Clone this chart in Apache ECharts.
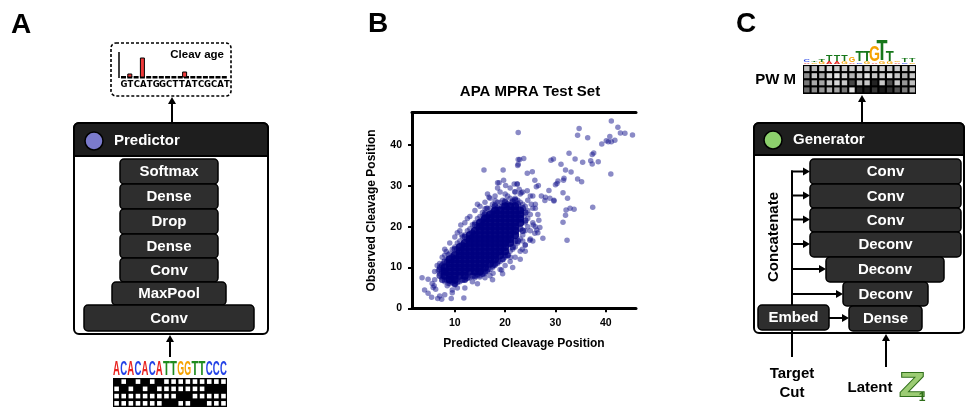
<!DOCTYPE html>
<html><head><meta charset="utf-8">
<script src="https://cdn.jsdelivr.net/npm/echarts@6/dist/echarts.min.js"></script>
<style>html,body{margin:0;padding:0;background:#fff}#c{width:970px;height:409px}</style>
</head><body><div id="c"></div>
<script>
// ---------------- DATA ----------------
const xTicks = [10, 20, 30, 40];
const yTicks = [0, 10, 20, 30, 40];
const chartTitle = 'APA MPRA Test Set';
const xName = 'Predicted Cleavage Position';
const yName = 'Observed Cleavage Position';

// dense centre of the cloud (predicted, observed)
const coreCloud = [
 [8,8],[8,9],[8,10],
 [9,7],[9,8],[9,9],[9,10],[9,11],[9,12],
 [10,7],[10,8],[10,9],[10,10],[10,11],[10,12],[10,13],
 [11,8],[11,9],[11,10],[11,11],[11,12],[11,13],[11,14],[11,15],
 [12,8],[12,9],[12,10],[12,11],[12,12],[12,13],[12,14],[12,15],[12,16],
 [13,9],[13,10],[13,11],[13,12],[13,13],[13,14],[13,15],[13,16],[13,17],[13,18],
 [14,9],[14,10],[14,11],[14,12],[14,13],[14,14],[14,15],[14,16],[14,17],[14,18],[14,19],
 [15,9],[15,10],[15,11],[15,12],[15,13],[15,14],[15,15],[15,16],[15,17],[15,18],[15,19],[15,20],[15,21],
 [16,10],[16,11],[16,12],[16,13],[16,14],[16,15],[16,16],[16,17],[16,18],[16,19],[16,20],[16,21],[16,22],
 [17,11],[17,12],[17,13],[17,14],[17,15],[17,16],[17,17],[17,18],[17,19],[17,20],[17,21],[17,22],[17,23],
 [18,12],[18,13],[18,14],[18,15],[18,16],[18,17],[18,18],[18,19],[18,20],[18,21],[18,22],[18,23],[18,24],
 [19,13],[19,14],[19,15],[19,16],[19,17],[19,18],[19,19],[19,20],[19,21],[19,22],[19,23],[19,24],
 [20,14],[20,15],[20,16],[20,17],[20,18],[20,19],[20,20],[20,21],[20,22],[20,23],[20,24],[20,25],
 [21,16],[21,17],[21,18],[21,19],[21,20],[21,21],[21,22],[21,23],[21,24],[21,25],
 [22,18],[22,19],[22,20],[22,21],[22,22],[22,23],[22,24],[22,25],
 [23,21],[23,22],[23,23],[23,24]
];

// fringe of the centre, still fairly dense
const fringeCloud = [
 [7.5,10.5],[8.5,11.5],[9.5,12.5],[10.5,14.5],[11.5,15.5],[12.5,17],[13.5,18.5],[14.5,20],[15.5,21.5],[16.5,22.5],
 [17.5,23.5],[18.5,24.5],[19.5,25],[20.5,25.5],[21.5,26],[22.5,25.5],[23.5,24.5],
 [8,11.5],[10,14.5],[12,17.5],[14,20.5],[16,23],[18,25],[20,26],[22,26.5],
 [8.5,7],[9.5,6.5],[10.5,6.5],[11.5,7],[12.5,7.5],[13.5,8],[14.5,8.5],[15.5,8.5],[16.5,9.5],[17.5,10.5],
 [18.5,11.5],[19.5,12],[20.5,13],[21.5,15],[22.5,16.5],[23.5,19],[24,21.5],[24,23.5],
 [10,6],[12,7],[14,8],[16,9],[18,11],[20,13],[22,16.5],[23,19.5],
 [7,8],[7.5,9],[7,9.5],[7.5,7]
];

// lighter points around the centre and the outliers
const spreadPoints = [
 [7,11],[7.5,12.5],[8,13],[8.5,12],[9,13.5],[9.5,14.5],[10,15],[10.5,16],[11,16.5],[11.5,17.5],[12,18],[12.5,19],
 [13,19.5],[13.5,20.5],[14,21],[14.5,22],[15,22.5],[15.5,23.5],[16,23.5],[16.5,24.5],[17,24.5],[17.5,25.5],[18,25.5],
 [18.5,26],[19,26],[19.5,26.5],[20,26.5],[21,27],[22,27],[20.5,27.5],[21.5,26.5],[22.5,26.5],[23,26],[23.5,25.5],
 [24,25],[24.5,24],[24,23],[24.5,22],[24,21],[24.5,20],[24,19],[23.5,18],[23,17],[23.5,16.5],[22.5,16],[22,15],
 [21.5,14.5],[21,14],[20.5,13],[20,12.5],[19.5,12],[19,11.5],[18.5,11],[18,10.5],[17.5,10],[17,9.5],[16.5,9],[16,8.5],
 [15.5,8.5],[15,8],[14.5,8],[14,7.5],[13,7.5],[12,7],[11,6.5],[10,6],[9,6],[8,6.5],[7.5,7.5],[7,8.5],[7.5,9.5],[7,10],
 [6,9],[6.5,10.5],[6,7],[8.5,5.5],[10.5,5],[13.5,6.5],[16,7.5],[17,8],[19,9.5],[20,10.5],[21,11.5],[22,12.5],[23,14],
 [24,15.5],[25,17],[25,19],[25.5,21],[25,23],[25.5,24.5],[24.5,26.5],[23,28],[22,28.5],[20,28],[19,28.5],[18,27.5],
 [17,27],[16,26],[15,25],[14,24],[13,22.5],[12,21],[11,19],[10,17.5],[9,16],[8,14.5],[10.5,18.5],[12.5,22],[14.5,25.5],
 [16.5,28],[18.5,29.5],[21,29.5],[23.5,28.5],[25,27.5],[26,25.5],[26.5,23],[26,20],[26.5,18.5],[25.5,16.5],[24,14],
 [23,12],[21.5,10],[19.5,8.5],[17.5,7],[14.5,6],[12,5],[9.5,4.5],[25.2,25.5],[26,24.5],[25.5,27.5],[28.9,27],
 [22.6,43.1],[41.1,45.9],[34.7,44.1],[34.4,42.4],[36.4,41.8],[42.4,44.4],[42.9,43.0],[43.8,42.9],[45.3,42.5],[40.8,42.1],
 [41.8,41.2],[41.1,40.8],[40.1,41.1],[40.5,40.8],[39.2,40.3],[41.0,32.9],[32.7,38.0],[37.6,38.1],[37.3,37.7],[33.9,36.6],
 [35.4,35.8],[37.0,36.2],[37.3,35.4],[38.5,35.9],[29.1,36.3],[29.6,36.6],[31.1,35.3],[32.0,33.9],[33.1,33.4],[24.4,33.1],
 [25.4,33.5],[22.9,36.5],[23.7,36.7],[22.5,35.0],[31.7,31.9],[31.6,31.4],[30.5,31.2],[30.3,30.6],[30.0,30.3],[34.4,31.7],
 [35.2,31.0],[25.9,31.4],[26.6,30.1],[26.2,29.8],[28.7,28.9],[31.5,28.3],[32.4,27.0],[28.0,27.2],[27.2,27.5],[29.7,26.5],
 [22.4,30.5],[21.9,28.6],[23.2,28.3],[24.4,28.8],[37.4,24.8],[32.9,24.5],[33.7,24.3],[32.1,24.1],[32.0,22.8],[31.5,21.1],
 [32.3,16.7],[27.5,17.2],[26.9,19.8],[26.3,19.2],[25.9,18.4],[26.7,21.6],[25.6,20.4],[24.9,16.7],[24.0,15.5],[23.4,14.5],
 [29.7,26.3],[27.9,26.4],[15.8,33.9],[19.6,33.9],[18.5,30.8],[18.8,30.8],[19.7,31.4],[20.1,30.1],[22.6,36.5],[22.6,35.3],
 [21.8,30.5],[22.4,30.5],[22.8,29.2],[16.8,27.2],[16.0,24.4],[18.0,26.4],[3.5,7.5],[4.7,7.1],[5.5,6.1],[4.0,4.5],[4.7,3.7],
 [5.4,2.7],[6.6,2.4],[7.0,3.0],[7.4,2.2],[8.0,3.3],[9.3,2.4],[11.8,2.5],[9.5,3.8],[5.7,5.1],[6.2,4.7],[5.9,5.5],[6.7,9.2],
 [7.5,7.9],[8.3,8.6],[8.0,6.9],[9.0,7.9],[8.7,6.1],[10.0,5.7],[11.2,20.4],[11.4,18.0],[8.3,13.9],[8.7,13.2],[7.7,11.0],
 [7.0,10.2],[17.6,8.6],[15.0,7.7],[17.8,10.6],[21.1,12.5],[19.3,9.4],[15.6,22.6],[16.3,24.5]
];

const predictorLayers = ['Softmax', 'Dense', 'Drop', 'Dense', 'Conv', 'MaxPool', 'Conv'];
const generatorLayers = ['Conv', 'Conv', 'Conv', 'Deconv', 'Deconv', 'Deconv', 'Dense'];
const inputSeq = 'ACACACATTGGTTCCC';
const cleavSeq = 'GTCATGGCTTATCGCAT';
const cleavBars = [[1, 3], [3, 19], [9.7, 5]];          // [position, height]
const bases = ['A', 'C', 'G', 'T'];
const pwmGray = [
 [190,185,200,215,205,200,205,215,200,205,210,200,205,200,215],
 [140,200,170,215,230,210,180,200,225,200,205,220,200,175,200],
 [120,170,165,200,215,200,70,190,200,35,200,80,200,150,190],
 [110,140,150,175,165,120,225,35,30,55,25,50,85,125,175]
];
const pwmLogo = [
 [0,'A',1.5],[0,'C',2],[1,'G',1.5],[1,'T',1.5],[2,'G',2],[2,'T',3],[3,'A',2],[3,'T',6],
 [4,'A',2],[4,'T',6],[5,'G',2],[5,'T',6],[6,'A',1.5],[6,'G',5],[7,'C',1.5],[7,'T',10],
 [8,'G',2],[8,'T',10],[9,'A',1.5],[9,'G',16],[10,'G',2],[10,'T',21],[11,'G',2],[11,'T',10],
 [12,'A',1.5],[12,'G',1.5],[13,'C',1.5],[13,'T',3.5],[14,'G',1.5],[14,'T',3.5]
];

// ---------------- STYLE / LAYOUT ----------------
const FF = '"Liberation Sans", Arial, Helvetica, sans-serif';
const baseColor = {A:'#e8231f', C:'#2342e6', G:'#f5a200', T:'#1e8c1e'};
const ADV = {A:722, C:722, G:778, T:611};
const G = [];
const bf = (s) => `bold ${s}px ${FF}`;
function rect(x,y,w,h,r,fill,stroke,lw,dash){
  G.push({type:'rect',shape:{x:x,y:y,width:w,height:h,r:r||0},
    style:{fill:fill||'none',stroke:stroke||null,lineWidth:lw||0,lineDash:dash||null}});
}
function line(x1,y1,x2,y2,lw){G.push({type:'line',shape:{x1,y1,x2,y2},style:{stroke:'#000',lineWidth:lw||2}});}
function txt(s,x,y,size,fill,align,extra){
  G.push(Object.assign({type:'text',x:x,y:y,style:{text:s,font:bf(size),fill:fill||'#000',
    textAlign:align||'left',textVerticalAlign:'middle'}},extra||{}));
}
function arrow(x1,y1,x2,y2,lw){
  const dx=x2-x1, dy=y2-y1, L=Math.hypot(dx,dy), ux=dx/L, uy=dy/L, hl=7, hw=4;
  const bx=x2-ux*hl, by=y2-uy*hl;
  line(x1,y1,bx+ux,by+uy,lw);
  G.push({type:'polygon',shape:{points:[[x2,y2],[bx-uy*hw,by+ux*hw],[bx+uy*hw,by-ux*hw]]},style:{fill:'#000'}});
}
function letter(ch,cx,bottom,w,h,color){
  const F0=40;
  G.push({type:'text',x:cx,y:bottom-h/2,scaleX:w/(ADV[ch]/1000*F0),scaleY:h/(0.716*F0),
    style:{text:ch,font:bf(F0),fill:color,textAlign:'center',textVerticalAlign:'middle'}});
}
function block(x,y,w,h,label){
  rect(x,y,w,h,4,'#2e2e2e','#000',1.5);
  txt(label,x+w/2,y+h/2+0.5,15,'#fff','center');
}

// panel letters
txt('A',11,25,28,'#000','left');
txt('B',368,24,28,'#000','left');
txt('C',736,24,28,'#000','left');

// ---- Panel A ----
rect(111,43,120,53,5,'none','#000',1.6,[3,2]);
line(119,52,119,78,1.5);
for(let i=0;i<17;i++){ rect(121+i*6.3,76,5,2.5,0,'#000'); }
cleavBars.forEach(b=>{ rect(121+b[0]*6.3+0.5,77-b[1],4,b[1],0,'#ee3a3a','#000',1); });
txt('Cleav age',224,55,11.5,'#000','right');
for(let i=0;i<cleavSeq.length;i++){
  G.push({type:'text',x:124+i*6.43,y:85,style:{text:cleavSeq[i],font:`bold 8.5px "DejaVu Sans", ${FF}`,fill:'#000',textAlign:'center',textVerticalAlign:'middle'}});
}
arrow(172,124,172,97,2);
rect(74,123,194,211,5,'#fff','#000',2);
rect(74,123,194,33,[5,5,0,0],'#1e1e1e','#000',2);
G.push({type:'circle',shape:{cx:94,cy:141,r:9},style:{fill:'#7a7acc',stroke:'#000',lineWidth:1.5}});
txt('Predictor',114,141,15,'#fff','left');
const predGeom = [[120,159,98,25],[120,184,98,25],[120,209,98,25],[120,234,98,24],[120,258,98,24],[112,282,114,23],[84,305,170,26]];
predictorLayers.forEach((n,i)=>{const g=predGeom[i]; block(g[0],g[1],g[2],g[3],n);});
arrow(170,357,170,335,2);
const cwA = 114/16;
for(let c=0;c<inputSeq.length;c++){
  const b=inputSeq[c];
  letter(b,113+(c+0.5)*cwA,377,6.9,14,baseColor[b]);
}
rect(113,378,114,29,0,'#000');
for(let r=0;r<4;r++) for(let c=0;c<16;c++){
  if(inputSeq[c]!==bases[r]) rect(113+c*cwA+1.3,378+r*7.25+1.3,4.6,4.6,0,'#fff');
}

// ---- Panel C ----
txt('PW M',796,80,15,'#000','right');
const cwP = 113/15;
const stackTop = {};
pwmLogo.forEach(e=>{
  const c=e[0], b=e[1], h=e[2];
  const bottom = stackTop[c]===undefined ? 64 : stackTop[c];
  const w = h>12 ? 11 : (h>8 ? 8 : 6.5);
  letter(b,803+(c+0.5)*cwP,bottom,w,h,baseColor[b]==='#1e8c1e'?'#17771a':baseColor[b]);
  stackTop[c]=bottom-h;
});
rect(803,65,113,29,0,'#000');
for(let r=0;r<4;r++) for(let c=0;c<15;c++){
  const g=pwmGray[r][c];
  rect(803+c*cwP+1.1,65+r*7.1+1.1,5.4,5.0,0,`rgb(${g},${g},${g})`);
}
arrow(862,124,862,95,2);
rect(754,123,210,210,5,'#fff','#000',2);
rect(754,123,210,32,[5,5,0,0],'#1e1e1e','#000',2);
G.push({type:'circle',shape:{cx:773,cy:140,r:9},style:{fill:'#8ccf6c',stroke:'#000',lineWidth:1.5}});
txt('Generator',793,140,15,'#fff','left');
txt('Concatenate',774,237,15,'#000','center',{rotation:Math.PI/2});
line(792,170.5,792,357,2);
const genGeom = [[810,159,151,25],[810,184,151,24],[810,208,151,24],[810,232,151,25],[826,257,118,25],[843,282,85,24],[849,306,73,25]];
const arrowY = [171.5,195.5,219.5,244,269,294];
arrowY.forEach((y,i)=>{ arrow(791,y,genGeom[i][0],y,2); });
arrow(829,318,849,318,2);
generatorLayers.forEach((n,i)=>{const g=genGeom[i]; block(g[0],g[1],g[2],g[3],n);});
block(758,305,71,25,'Embed');
arrow(886,367,886,334,2);
txt('Target',792,374,15,'#000','center');
txt('Cut',792,393,15,'#000','center');
txt('Latent',870,388,15,'#000','center');
G.push({type:'text',x:912,y:386.5,scaleX:1.25,style:{text:'Z',font:bf(33),fill:'#9ccc74',stroke:'#2f6e1a',lineWidth:1.8,textAlign:'center',textVerticalAlign:'middle'}});
G.push({type:'text',x:922,y:398,style:{text:'1',font:bf(12),fill:'#2f6e1a',textAlign:'center',textVerticalAlign:'middle'}});

// ---------------- CHART ----------------
const axText = {fontSize:10.5, fontWeight:'bold', color:'#000', fontFamily:FF};
const nameText = {fontSize:12, fontWeight:'bold', color:'#000', fontFamily:FF};
const chart = echarts.init(document.getElementById('c'), null, {renderer:'canvas'});
chart.setOption({
  animation:false,
  backgroundColor:'#fff',
  title:{text:chartTitle,left:525,top:79,textAlign:'center',
    textStyle:{fontSize:15,fontWeight:'bold',color:'#000',fontFamily:FF}},
  grid:{left:412,right:334,top:112.5,bottom:100.7,containLabel:false},
  xAxis:[
    {type:'value',min:1.5,max:46,position:'bottom',
     axisLine:{show:true,onZero:false,lineStyle:{color:'#000',width:3}},
     axisTick:{show:true,customValues:xTicks,length:4,lineStyle:{color:'#000',width:2}},
     axisLabel:{customValues:xTicks,margin:9,...axText},
     splitLine:{show:false},
     name:xName,nameLocation:'middle',nameGap:29,nameTextStyle:nameText},
    {type:'value',min:1.5,max:46,position:'top',
     axisLine:{show:true,onZero:false,lineStyle:{color:'#000',width:3}},
     axisTick:{show:false},axisLabel:{show:false},splitLine:{show:false}}
  ],
  yAxis:{type:'value',min:0,max:48,
     axisLine:{show:true,onZero:false,lineStyle:{color:'#000',width:3}},
     axisTick:{show:true,customValues:yTicks,length:4,lineStyle:{color:'#000',width:2}},
     axisLabel:{customValues:yTicks,margin:10,...axText},
     splitLine:{show:false},
     name:yName,nameLocation:'middle',nameGap:34,nameTextStyle:nameText},
  series:[
    {type:'scatter',data:spreadPoints,symbolSize:5.5,silent:true,z:2,
     itemStyle:{color:'#16168e',opacity:0.5}},
    {type:'scatter',data:fringeCloud,symbolSize:6.5,silent:true,z:3,
     itemStyle:{color:'#0a0a88',opacity:0.7}},
    {type:'scatter',data:coreCloud,symbolSize:8,silent:true,z:4,
     itemStyle:{color:'#00007f',opacity:0.92}}
  ],
  graphic:{elements:G}
});
</script></body></html>
